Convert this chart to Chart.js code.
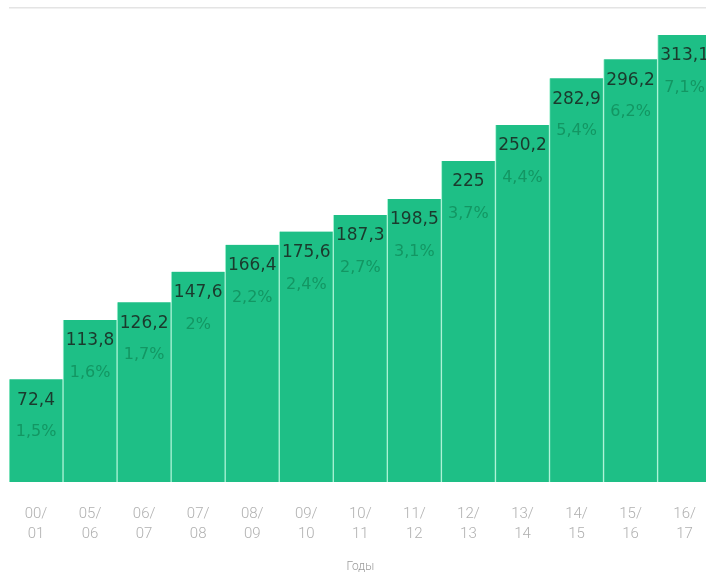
<!DOCTYPE html>
<html>
<head>
<meta charset="utf-8">
<script src="https://cdn.jsdelivr.net/npm/chart.js@4"></script>
<style>
    html, body { margin: 0; padding: 0; background: #fff; overflow: hidden; }
    .chart-container { position: absolute; left: 0; top: 0; width: 718px; height: 579px; }
</style>
</head>
<body>
<div class="chart-container"><canvas id="chart"></canvas></div>
<script>
// Годы (два ряда подписи)
const years = [
    ['00/', '01'], ['05/', '06'], ['06/', '07'], ['07/', '08'], ['08/', '09'],
    ['09/', '10'], ['10/', '11'], ['11/', '12'], ['12/', '13'], ['13/', '14'],
    ['14/', '15'], ['15/', '16'], ['16/', '17']
];
const values = [72.4, 113.8, 126.2, 147.6, 166.4, 175.6, 187.3, 198.5, 225, 250.2, 282.9, 296.2, 313.1];
const shares = [1.5, 1.6, 1.7, 2, 2.2, 2.4, 2.7, 3.1, 3.7, 4.4, 5.4, 6.2, 7.1];

const fmt = (v) => String(v).replace('.', ',');

// подписи внутри столбцов
const barLabels = {
    id: 'barLabels',
    afterDatasetsDraw(chart) {
        const ctx = chart.ctx;
        const meta = chart.getDatasetMeta(0);
        ctx.save();
        ctx.textAlign = 'center';
        ctx.textBaseline = 'middle';
        meta.data.forEach((bar, i) => {
            ctx.font = '17px "DejaVu Sans"';
            ctx.fillStyle = '#1b3a2d';
            ctx.fillText(fmt(values[i]), bar.x, bar.y + 21);
            ctx.font = '16px "DejaVu Sans"';
            ctx.fillStyle = '#139663';
            ctx.fillText(fmt(shares[i]) + '%', bar.x, bar.y + 53);
        });
        ctx.restore();
    }
};

const config = {
    type: 'bar',
    data: {
        labels: years,
        datasets: [{
            data: values,
            backgroundColor: '#1ebf86',
            borderColor: '#a8f2d4',
            borderWidth: { left: 1, right: 1, top: 0, bottom: 0 },
            borderSkipped: false,
            barPercentage: 1,
            categoryPercentage: 1
        }]
    },
    options: {
        responsive: true,
        maintainAspectRatio: false,
        animation: false,
        layout: { padding: { left: 9, right: 2, top: 8, bottom: 0 } },
        plugins: {
            legend: { display: false },
            tooltip: { enabled: false }
        },
        scales: {
            y: {
                min: 0,
                max: 332,
                afterBuildTicks: (axis) => { axis.ticks = [{ value: 0 }, { value: 332 }]; },
                ticks: { display: false },
                border: { display: false },
                grid: {
                    drawTicks: false,
                    lineWidth: 1.5,
                    color: (c) => c.tick && c.tick.value === 332 ? '#e4e4e4' : 'rgba(0,0,0,0)'
                }
            },
            x: {
                grid: { display: false, drawTicks: false },
                border: { display: false },
                ticks: {
                    color: '#b0b0b0',
                    padding: 22,
                    maxRotation: 0,
                    autoSkip: false,
                    font: { family: 'Roboto', size: 15, weight: 300, lineHeight: 1.33 }
                },
                title: {
                    display: true,
                    text: 'Годы',
                    color: '#9a9a9a',
                    padding: { top: -7, bottom: 5 },
                    font: { family: 'Roboto', size: 12, weight: 300 }
                }
            }
        }
    },
    plugins: [barLabels]
};

new Chart(document.getElementById('chart'), config);
</script>
</body>
</html>
